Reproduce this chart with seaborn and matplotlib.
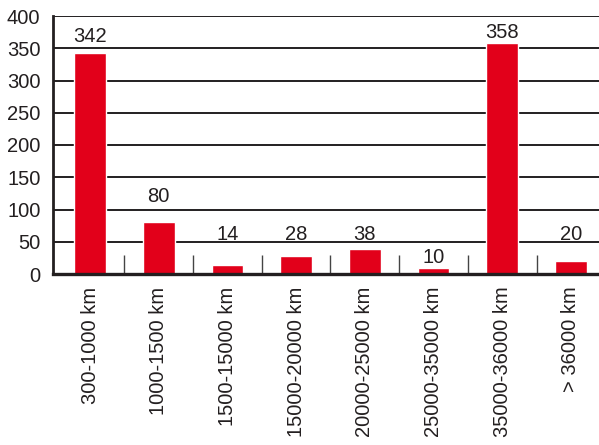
import matplotlib
matplotlib.use("Agg")
import matplotlib.pyplot as plt
from matplotlib.ticker import FixedLocator
import seaborn as sns
import pandas as pd

# Orbital altitude ranges and number of objects in each
categories = ["300-1000 km", "1000-1500 km", "1500-15000 km", "15000-20000 km",
              "20000-25000 km", "25000-35000 km", "35000-36000 km", "> 36000 km"]
counts = [342, 80, 14, 28, 38, 10, 358, 20]
# height (data units) of the baseline of each value label
label_pos = [359, 112, 53, 53, 53, 17, 366, 53]

y_ticks = [0, 50, 100, 150, 200, 250, 300, 350, 400]

sns.set_style("white")
plt.rcParams["font.family"] = ["Liberation Sans", "DejaVu Sans"]

ink = "#231f20"
red = "#e2001a"

df = pd.DataFrame({"range": categories, "count": counts})

fig = plt.figure(figsize=(5.99, 4.45), dpi=100)
ax = fig.add_axes([53 / 599, 1 - 274 / 445, 1 - 53 / 599, (274 - 16) / 445])

sns.barplot(data=df, x="range", y="count", color=red, width=0.46,
            saturation=1, ax=ax, zorder=3)

ax.set_xlim(-0.54, 7.41)
ax.set_ylim(0, 400)
ax.set_yticks(y_ticks)
ax.set_xlabel("")
ax.set_ylabel("")

# horizontal grid lines, drawn behind the bars
for v in y_ticks[1:]:
    ax.axhline(v, color=ink, lw=1.4, zorder=1)

for side in ["top", "right"]:
    ax.spines[side].set_visible(False)
ax.spines["left"].set_color(ink)
ax.spines["left"].set_linewidth(2.0)
ax.spines["bottom"].set_color(ink)
ax.spines["bottom"].set_linewidth(2.4)
ax.spines["left"].set_zorder(4)
ax.spines["bottom"].set_zorder(4)

ax.tick_params(axis="y", length=0, pad=9, labelsize=14.5, labelcolor=ink)
ax.tick_params(axis="x", which="major", length=0, pad=9, labelsize=14.5,
               labelcolor=ink, labelrotation=90)
# short separators between categories
ax.xaxis.set_minor_locator(FixedLocator([i + 0.5 for i in range(len(categories) - 1)]))
ax.tick_params(axis="x", which="minor", bottom=True, direction="in", length=14,
               width=1.0, color="#444444")

for lbl in ax.get_xticklabels():
    lbl.set_verticalalignment("top")
    lbl.set_horizontalalignment("center")

for i, (c, p) in enumerate(zip(counts, label_pos)):
    ax.text(i, p, str(c), ha="center", va="baseline", fontsize=14.5,
            color=ink, zorder=5)

fig.savefig("out.png", dpi=100)
